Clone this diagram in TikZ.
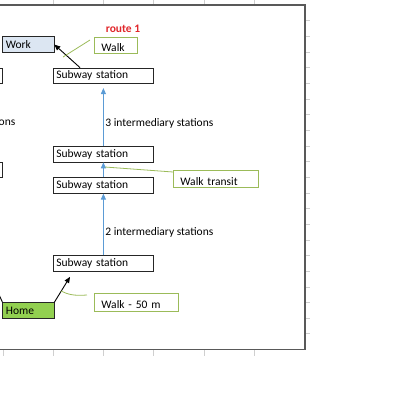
\documentclass[tikz,border=0pt]{standalone}
\usepackage{fontspec}
\setmainfont{Carlito}
\usetikzlibrary{arrows.meta}
\definecolor{framegray}{HTML}{595959}
\definecolor{gridgray}{HTML}{CFCFCF}
\definecolor{workblue}{HTML}{DCE6F2}
\definecolor{homegreen}{HTML}{92D050}
\definecolor{calloutgreen}{HTML}{9BBB59}
\definecolor{flowblue}{HTML}{5B9BD5}
\definecolor{routered}{HTML}{E0262A}
\tikzset{
    cellfont/.style={font=\fontsize{11.5}{12}\selectfont},
    box/.style={draw=black!85, line width=0.8pt, anchor=north west, cellfont,
        minimum height=15.65pt, inner xsep=3pt, inner ysep=0pt, align=left},
    station/.style={box, minimum width=100pt, text width=94pt},
    place/.style={box, minimum width=51pt, text width=45pt},
    callout/.style={draw=calloutgreen, line width=0.8pt, anchor=north west, cellfont,
        inner xsep=7pt, inner ysep=0pt, align=left, text width=#1, text height=13pt},
    calloutline/.style={draw=calloutgreen, line width=0.8pt},
    flow/.style={draw=flowblue, line width=1pt, -{Triangle[width=5pt,length=6pt]}},
    walkarrow/.style={draw=black, line width=0.9pt, -{Triangle[width=5pt,length=6pt]}},
    midlabel/.style={right, pos=.37, inner sep=1.5pt, cellfont}
}
\begin{document}
\begin{tikzpicture}[x=1pt, y=-1pt]
    \clip (0,0) rectangle (400,400);
    % sheet grid and chart frame
    \foreach \k in {1,...,21} {
        \draw[gridgray] (305,{5+15.65*\k}) -- ++(5,0);
    }
    \foreach \x in {3,53,103,153,204,254} {
        \draw[gridgray] (\x,349.5) -- ++(0,6);
    }
    \foreach \x in {53,103,153,204,254} {
        \draw[gridgray] (\x,0) -- (\x,5);
    }
    \draw[framegray, line width=1.2pt] (-5,5) rectangle (305,349.5);

    % route 0 (cut off at the left)
    \node[station, anchor=north east] (left1) at (3,67.6) {};
    \node[station, anchor=north east] (left2) at (3,161.5) {};
    \node[anchor=east, inner sep=0pt, cellfont] (leftlbl) at (15.5,123) {ons};

    % places
    \node[place, fill=workblue] (work) at (2.5,36.3) {Work};
    \node[place, fill=homegreen] (home) at (2.5,302.35) {Home};
    \draw[line width=0.9pt] (home.north west) -- ++(-9,-20);

    % route 1
    \node[font=\bfseries\fontsize{11.5}{12}\selectfont, text=routered] (route) at (123,29) {route 1};
    \node[station] (s1) at (53,67.6) {Subway station};
    \node[station] (s2) at (53,145.85) {Subway station};
    \node[station] (s3) at (53,177.15) {Subway station};
    \node[station] (s4) at (53,255.4) {Subway station};

    \draw[flow] (s4.north) -- node[midlabel] {2 intermediary stations} (s3.south);
    \draw[flow] (s3.north) -- (s2.south);
    \draw[flow, shorten >=4pt] (s2.north) -- node[midlabel] {3 intermediary stations} (s1.south);

    \draw[walkarrow] (home.north east) -- ([xshift=17pt,yshift=-5pt]s4.south west);
    \draw[walkarrow] ([xshift=27pt]s1.north west) -- (work.east);

    % callouts
    \node[callout=29pt, minimum height=16pt] (walk) at (94,37) {Walk};
    \node[callout=71pt, minimum height=17pt] (transit) at (173,170) {Walk transit};
    \node[callout=70pt, minimum height=18pt] (walkfifty) at (94,293) {Walk - 50 m};
    \coordinate (walkpt) at (63,57);
    \coordinate (transitpt) at (105,167);
    \coordinate (fiftypt) at (61,291);
    \draw[calloutline] ([xshift=-4pt,yshift=-3pt]walk.north west) -- (walkpt);
    \draw[calloutline] ([yshift=-2pt]transit.north west) -- (transitpt);
    \draw[calloutline] ([xshift=-7pt,yshift=-2pt]walkfifty.north west)
        .. controls (74,296) and (68,294.5) .. (fiftypt);
\end{tikzpicture}
\end{document}
